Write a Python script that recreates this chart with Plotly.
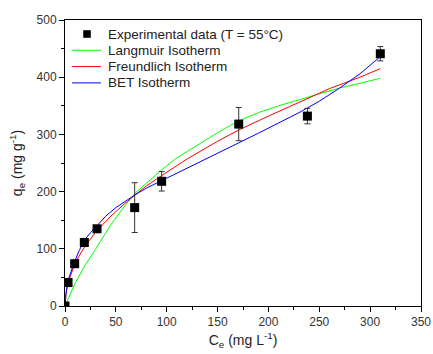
import plotly.graph_objects as go

# Experimental data
ce_exp = [0, 3, 9.5, 19, 31.5, 68.5, 95, 170.8, 238.3, 310]
qe_exp = [0, 41, 74, 111, 135, 172, 218, 318, 332, 441]
qe_err = [3, 4, 4, 4, 3, 43.5, 17, 29, 13.5, 12.5]

# Fitted curves
ce_lang = [0, 5, 10, 20, 30, 45, 60, 70, 80, 95, 110, 130, 150, 170, 190, 210, 230, 250, 270, 290, 310]
qe_lang = [0, 21, 40, 72, 99, 142, 178, 199, 215, 238, 259, 281, 303, 323, 338, 350, 361, 371, 381, 390, 398]

ce_freu = [0, 1, 3, 6, 10, 15, 20, 30, 45, 60, 80, 95, 120, 150, 170, 200, 230, 260, 290, 310]
qe_freu = [0, 22, 41, 57, 75, 91, 105, 129, 157, 181, 210, 228, 257, 288, 307, 332, 356, 380, 400, 415]

ce_bet = [0, 1, 3, 6, 9.5, 14, 19, 25, 31.5, 40, 50, 68.5, 80, 95, 110, 130, 150, 170, 190, 210, 230, 250, 270, 290, 310]
qe_bet = [0, 22, 45, 62, 78, 97, 115, 128, 141, 157, 172, 194, 206, 219, 232, 249, 266, 284, 302, 320, 338, 358, 381, 406, 436]

x_ticks = [0, 50, 100, 150, 200, 250, 300, 350]
y_ticks = [0, 100, 200, 300, 400, 500]

legend_names = ["Experimental data (T = 55°C)", "Langmuir Isotherm", "Freundlich Isotherm", "BET Isotherm"]
line_colors = ["#00ff00", "#ff0000", "#0000ff"]

FONT = "Liberation Sans, Arial"

fig = go.Figure()
for xs, ys, name, col in zip([ce_lang, ce_freu, ce_bet], [qe_lang, qe_freu, qe_bet],
                             legend_names[1:], line_colors):
    fig.add_trace(go.Scatter(x=xs, y=ys, mode="lines", name=name,
                             line=dict(color=col, width=1), showlegend=False))
fig.add_trace(go.Scatter(x=ce_exp, y=qe_exp, mode="markers", name=legend_names[0],
                         marker=dict(symbol="square", size=9, color="black"),
                         error_y=dict(type="data", array=qe_err, visible=True,
                                      color="#333333", thickness=1, width=3),
                         showlegend=False))

axis_common = dict(showline=True, linecolor="black", linewidth=1, mirror=True,
                   ticks="outside", ticklen=5, tickcolor="black", showgrid=False,
                   zeroline=False, automargin=False,
                   tickfont=dict(family=FONT, size=12, color="#333333"))

fig.update_xaxes(range=[0, 350], tickvals=x_ticks,
                 minor=dict(ticks="outside", ticklen=3, dtick=25, tickcolor="black"),
                 title=dict(text="C<sub>e</sub> (mg L<sup>-1</sup>)", standoff=6,
                            font=dict(family=FONT, size=14, color="#222222")),
                 **axis_common)
fig.update_yaxes(range=[0, 500], tickvals=y_ticks,
                 minor=dict(ticks="outside", ticklen=3, dtick=50, tickcolor="black"),
                 title=dict(text="q<sub>e</sub> (mg g<sup>-1</sup>)", standoff=10,
                            font=dict(family=FONT, size=14, color="#222222")),
                 **axis_common)

# Manual legend (inside plot, top-left), in plot-area paper coordinates
PW, PH = 356.0, 286.0
row_y = [1 - (34 - 20) / PH - k * 16.3 / PH for k in range(4)]
text_x = (106 - 65) / PW
key_x0, key_x1 = (72 - 65) / PW, (101 - 65) / PW
mk_x = (87 - 65) / PW
half_w, half_h = 3.8 / PW, 3.8 / PH

shapes = [dict(type="rect", xref="paper", yref="paper",
               x0=mk_x - half_w, x1=mk_x + half_w, y0=row_y[0] - half_h, y1=row_y[0] + half_h,
               fillcolor="black", line=dict(width=0))]
for k, col in enumerate(line_colors, start=1):
    shapes.append(dict(type="line", xref="paper", yref="paper",
                       x0=key_x0, x1=key_x1, y0=row_y[k], y1=row_y[k],
                       line=dict(color=col, width=1)))
annotations = [dict(text=name, xref="paper", yref="paper", x=text_x, y=row_y[k],
                    xanchor="left", yanchor="middle", showarrow=False,
                    font=dict(family=FONT, size=13.5, color="#222222"))
               for k, name in enumerate(legend_names)]

fig.update_layout(
    width=433, height=354,
    margin=dict(l=65, r=12, t=20, b=48),
    plot_bgcolor="white", paper_bgcolor="white",
    showlegend=False, hovermode=False,
    shapes=shapes, annotations=annotations,
)

fig.write_html("out.html", config={"displayModeBar": False, "staticPlot": True},
               post_script="document.body.style.margin='0';document.body.style.overflow='hidden';")
